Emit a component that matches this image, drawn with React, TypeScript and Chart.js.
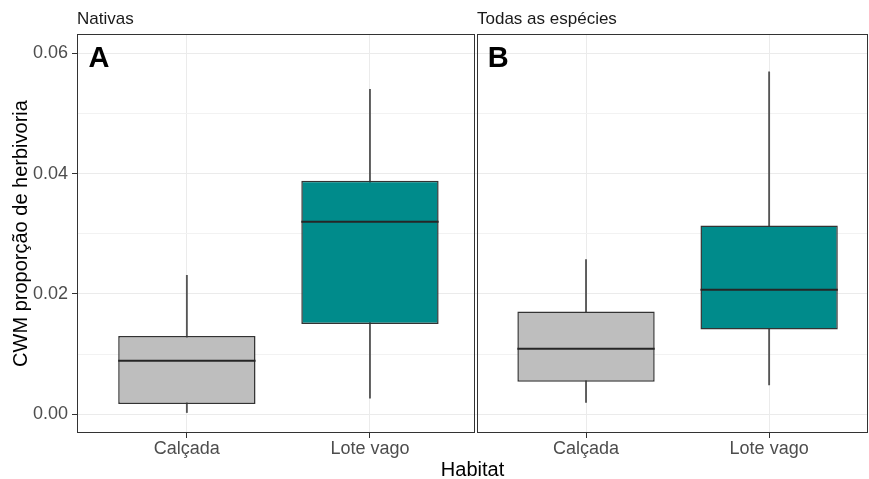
import React, { useEffect, useRef } from 'react';
import { Chart, registerables } from 'chart.js';

Chart.register(...registerables);

// ---- data ----
const panelTitles = ['Nativas', 'Todas as espécies'];
const panelTags = ['A', 'B'];
const categories = ['Calçada', 'Lote vago'];

const nativasLow = [0.0003, 0.0027];
const nativasQ1 = [0.0017, 0.015];
const nativasMedian = [0.0089, 0.032];
const nativasQ3 = [0.013, 0.0388];
const nativasHigh = [0.0231, 0.054];

const todasLow = [0.002, 0.0049];
const todasQ1 = [0.0054, 0.0141];
const todasMedian = [0.0109, 0.0207];
const todasQ3 = [0.0171, 0.0314];
const todasHigh = [0.0257, 0.0569];

const yMajorTicks = [0, 0.02, 0.04, 0.06];
const yMinorTicks = [0.01, 0.03, 0.05];
const xAxisTitle = 'Habitat';
const yAxisTitle = 'CWM proporção de herbivoria';

// ---- layout / style ----
const X_POS = [
  [1, 2],
  [3.18, 4.18],
];
const PANEL_RANGES = [
  [0.4, 2.575],
  [2.582, 4.72],
];
const X_MIN = 0.4;
const X_MAX = 4.72;
const Y_MIN = -0.0031;
const Y_MAX = 0.0632;
const TAG_DX = -0.48;
const TAG_Y = 0.059;
const fillColors = ['#BEBEBE', '#008B8B'];
const FONT = '"Liberation Sans", Arial, Helvetica, sans-serif';

const xPositions = [...X_POS[0], ...X_POS[1]];
const xTickLabels = [...categories, ...categories];
const lows = [...nativasLow, ...todasLow];
const q1s = [...nativasQ1, ...todasQ1];
const medians = [...nativasMedian, ...todasMedian];
const q3s = [...nativasQ3, ...todasQ3];
const highs = [...nativasHigh, ...todasHigh];
const yAllTicks = [...yMajorTicks, ...yMinorTicks].sort((a, b) => a - b);
const isMajor = (v: number) => yMajorTicks.some((m) => Math.abs(m - v) < 1e-9);

const decorPlugin = {
  id: 'decor',
  afterDatasetsDraw(chart: any) {
    const { ctx, chartArea } = chart;
    const x = chart.scales.x;
    const y = chart.scales.y;
    const boxMeta = chart.getDatasetMeta(0);
    ctx.save();
    // medians
    ctx.strokeStyle = '#262626';
    ctx.lineWidth = 2;
    boxMeta.data.forEach((el: any, i: number) => {
      const py = y.getPixelForValue(medians[i]);
      ctx.beginPath();
      ctx.moveTo(el.x - el.width / 2, py);
      ctx.lineTo(el.x + el.width / 2, py);
      ctx.stroke();
    });
    // panel borders, strip titles, tags
    PANEL_RANGES.forEach(([a, b], p) => {
      const l = Math.round(x.getPixelForValue(a)) + 0.5;
      const r = Math.round(x.getPixelForValue(b)) - 0.5;
      ctx.strokeStyle = '#333333';
      ctx.lineWidth = 1;
      ctx.strokeRect(l, chartArea.top + 0.5, r - l, chartArea.bottom - chartArea.top - 1);

      ctx.fillStyle = '#1a1a1a';
      ctx.font = `17px ${FONT}`;
      ctx.textAlign = 'left';
      ctx.textBaseline = 'alphabetic';
      ctx.fillText(panelTitles[p], l - 0.5, chartArea.top - 10);

      ctx.fillStyle = '#000000';
      ctx.font = `bold 29px ${FONT}`;
      ctx.textAlign = 'center';
      ctx.textBaseline = 'middle';
      ctx.fillText(panelTags[p], x.getPixelForValue(X_POS[p][0] + TAG_DX), y.getPixelForValue(TAG_Y));
    });
    ctx.restore();
  },
};

export default function App() {
  const ref = useRef<HTMLCanvasElement>(null);

  useEffect(() => {
    Chart.defaults.font.family = FONT;
    const chart = new Chart(ref.current as HTMLCanvasElement, {
      type: 'bar',
      data: {
        datasets: [
          {
            label: 'box',
            data: xPositions.map((xv, i) => ({ x: xv, y: [q1s[i], q3s[i]] })) as any,
            backgroundColor: xPositions.map((_, i) => fillColors[i % 2]),
            borderColor: '#333333',
            borderWidth: 1.5,
            borderSkipped: false,
            grouped: false,
            barPercentage: 0.75,
            categoryPercentage: 1,
          },
          {
            label: 'whisker',
            data: xPositions.map((xv, i) => ({ x: xv, y: [lows[i], highs[i]] })) as any,
            backgroundColor: '#555555',
            borderWidth: 0,
            grouped: false,
            maxBarThickness: 1.2,
            barPercentage: 1,
            categoryPercentage: 1,
          },
        ],
      },
      options: {
        responsive: false,
        animation: false,
        layout: { padding: { top: 34, right: 1, bottom: 0, left: 0 } },
        plugins: {
          legend: { display: false },
          tooltip: { enabled: false },
          title: { display: false },
        },
        scales: {
          x: {
            type: 'linear',
            min: X_MIN,
            max: X_MAX,
            offset: false,
            afterBuildTicks: (s: any) => {
              s.ticks = xPositions.map((v) => ({ value: v }));
            },
            afterFit: (s: any) => {
              s.height = 46;
            },
            ticks: {
              autoSkip: false,
              maxRotation: 0,
              padding: 0,
              color: '#4D4D4D',
              font: { size: 18 },
              callback: (_v: any, i: number) => xTickLabels[i],
            },
            grid: {
              offset: false,
              color: '#EBEBEB',
              lineWidth: 1,
              drawTicks: true,
              tickLength: 5,
              tickColor: '#333333',
            },
            border: { display: false },
            title: {
              display: true,
              text: xAxisTitle,
              color: '#000000',
              font: { size: 20, lineHeight: 0.8 },
              padding: { top: 0, bottom: 1 },
            },
          },
          y: {
            type: 'linear',
            min: Y_MIN,
            max: Y_MAX,
            afterBuildTicks: (s: any) => {
              s.ticks = yAllTicks.map((v) => ({ value: v }));
            },
            afterFit: (s: any) => {
              s.width = 77;
            },
            ticks: {
              autoSkip: false,
              padding: 4,
              color: '#4D4D4D',
              font: { size: 18 },
              callback: (v: any) => (isMajor(Number(v)) ? Number(v).toFixed(2) : ''),
            },
            grid: {
              color: (c: any) => (c.tick && isMajor(c.tick.value) ? '#EBEBEB' : '#F2F2F2'),
              lineWidth: 1,
              drawTicks: true,
              tickLength: 5,
              tickColor: (c: any) => (c.tick && isMajor(c.tick.value) ? '#333333' : 'rgba(0,0,0,0)'),
            },
            border: { display: false },
            title: {
              display: true,
              text: yAxisTitle,
              color: '#000000',
              font: { size: 20 },
              padding: { top: 9, bottom: 0 },
            },
          },
        },
      },
      plugins: [decorPlugin],
    } as any);
    return () => chart.destroy();
  }, []);

  return (
    <div style={{ position: 'absolute', left: 0, top: 0, width: 869, height: 479, background: '#ffffff' }}>
      <canvas ref={ref} width={869} height={479} style={{ display: 'block' }} />
    </div>
  );
}
